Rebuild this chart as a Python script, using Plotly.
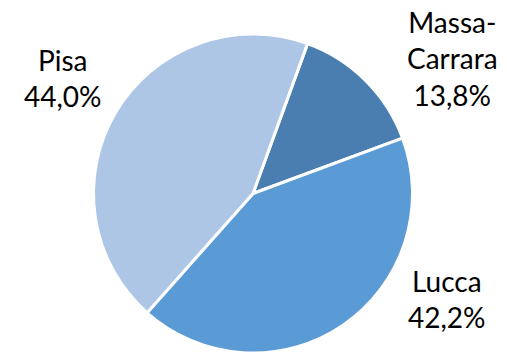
import plotly.graph_objects as go

# Share by province
provinces = ["Massa-Carrara", "Lucca", "Pisa"]
label_lines = ["Massa-<br>Carrara", "Lucca", "Pisa"]
shares = [13.8, 42.2, 44.0]
colors = ["#4A7EB1", "#5B9BD5", "#ADC6E6"]

W, H = 507, 353

fig = go.Figure(go.Pie(
    labels=provinces,
    values=shares,
    sort=False,
    direction="clockwise",
    rotation=20,
    marker=dict(colors=colors, line=dict(color="white", width=3)),
    textinfo="none",
    hoverinfo="label+percent",
    showlegend=False,
    domain=dict(x=[93 / W, 413 / W], y=[0, (353 - 34) / H]),
))

def fmt(v):
    return f"{v:.1f}".replace(".", ",") + "%"

# label anchor points (pixel x, pixel y of the first line's center)
label_pos = {
    "Massa-Carrara": (452, 22),
    "Lucca": (447, 281),
    "Pisa": (63, 60),
}

for name, lines, v in zip(provinces, label_lines, shares):
    px, py = label_pos[name]
    fig.add_annotation(
        x=px / W, y=1 - py / H, xref="paper", yref="paper",
        xanchor="center", yanchor="middle",
        text=f"{lines}<br>{fmt(v)}",
        showarrow=False, align="center",
        font=dict(family="Lato", size=28, color="#000000"),
        yshift=-(lines.count("<br>") + 1) * 0.65 * 28,
    )

fig.update_layout(
    width=W, height=H,
    margin=dict(l=0, r=0, t=0, b=0),
    paper_bgcolor="white", plot_bgcolor="white",
)

fig.write_html("out.html")
